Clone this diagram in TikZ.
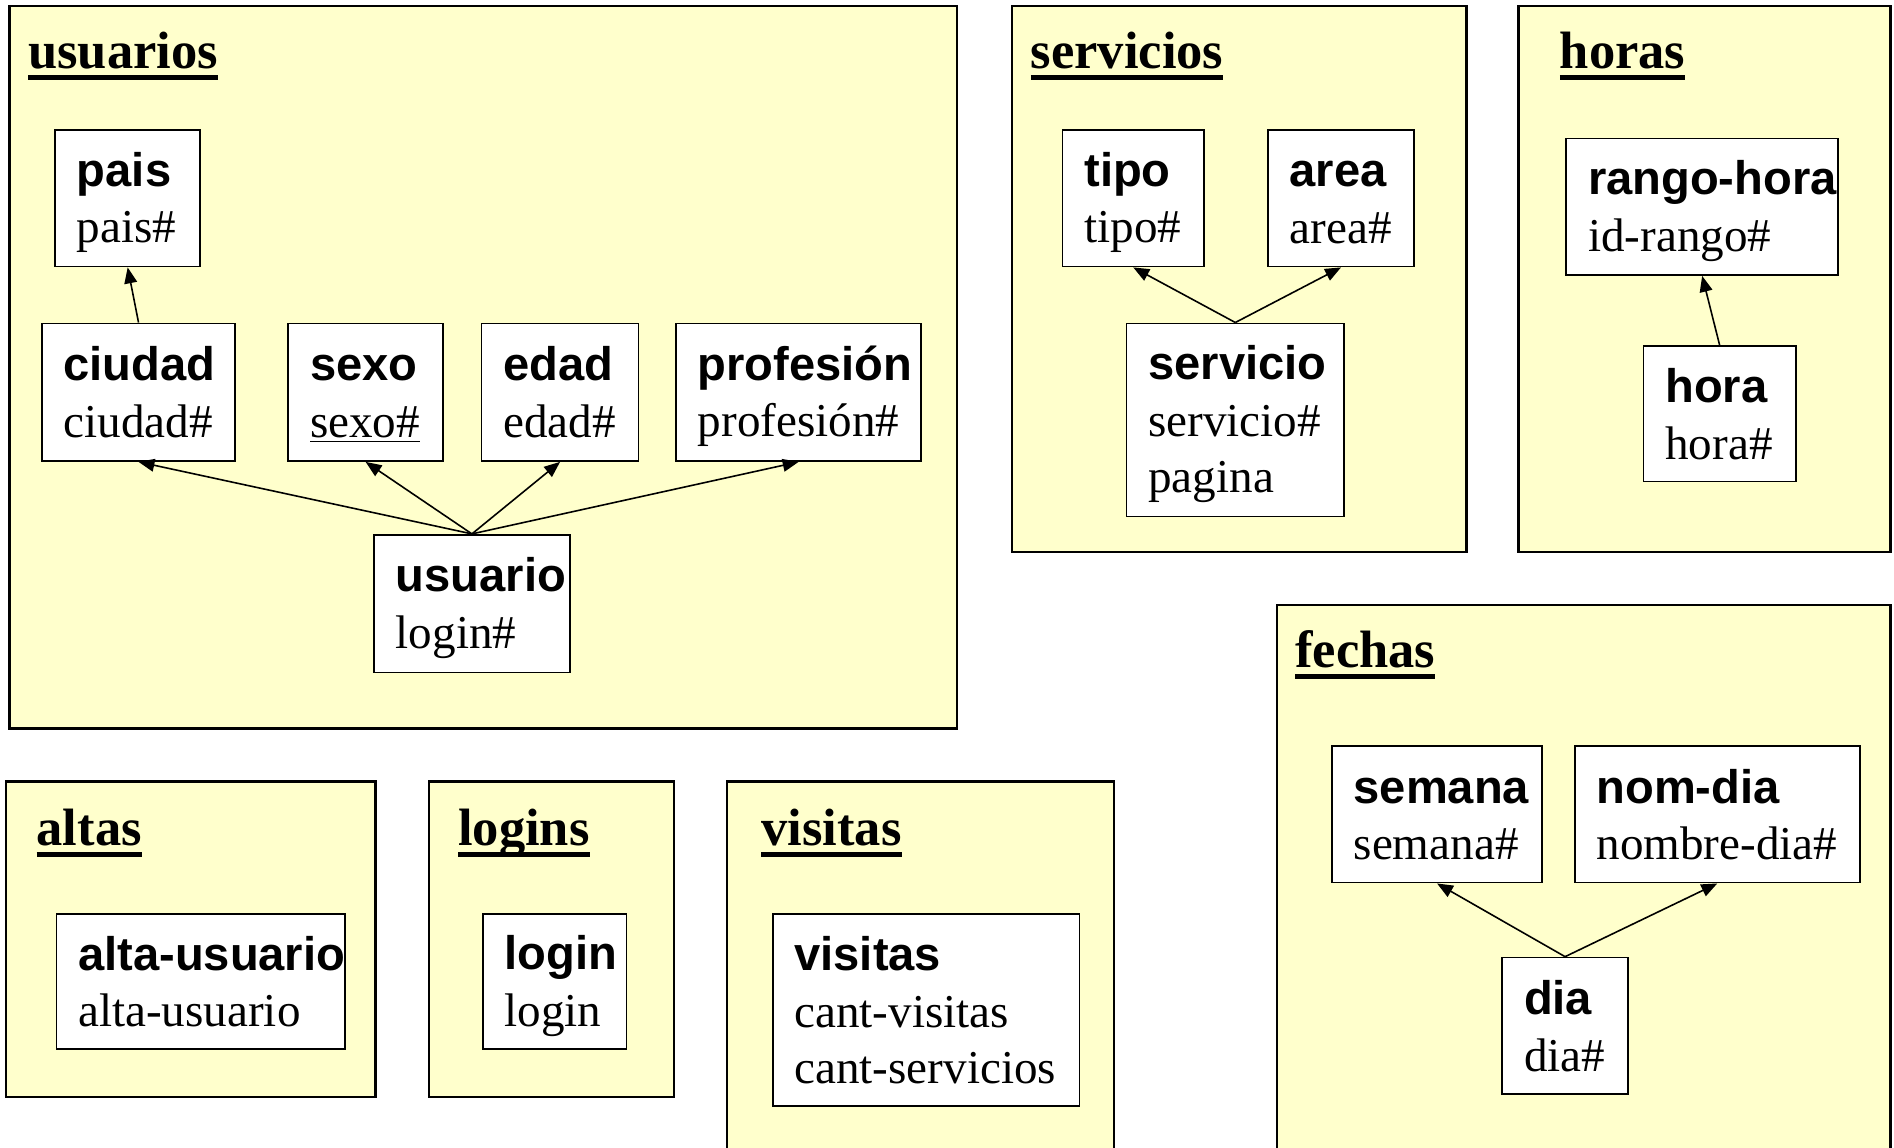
\documentclass[tikz,border=0pt]{standalone}
\usepackage{fontspec}
\setmainfont{Liberation Serif}
\setsansfont{Liberation Sans}
\usetikzlibrary{arrows.meta}
\definecolor{amarillo}{HTML}{FFFFCC}
\hyphenpenalty=10000
\exhyphenpenalty=10000
\newcommand{\cab}[1]{{\sffamily\bfseries #1}}
\newcommand{\puntal}{\rule[-4pt]{0pt}{24pt}}
\newcommand{\titulo}[1]{\setbox0\hbox{#1}\rlap{\rule[-5.2pt]{\wd0}{2.3pt}}\box0}
\tikzset{
    panel/.style={draw=black, fill=amarillo, line width=1.1pt},
    tit/.style={anchor=base west, inner sep=0pt, font=\fontsize{24.75}{28}\selectfont\bfseries},
    ent/.style={draw=black, fill=white, line width=0.8pt, anchor=north west,
        inner xsep=0.36cm, inner ysep=0pt, align=left,
        font=\fontsize{22.2}{26.7}\selectfont,
        execute at begin node=\puntal, execute at end node=\puntal},
    flecha/.style={-{Triangle[length=7.5pt,width=6pt]}, line width=0.75pt}
}

\begin{document}
\begin{tikzpicture}[x=0.02cm, y=-0.02cm]
    \useasboundingbox (0,0) rectangle (1568,950);

    % usuarios
    \draw[panel] (8,5) rectangle (792,603);
    \node[tit] (t-usuarios) at (23,57) {\titulo{usuarios}};
    \node[ent, text width=1.68cm, minimum height=2.26cm] (pais) at (45,107) {\cab{pais}\\pais\#};
    \node[ent, text width=2.48cm, minimum height=2.28cm] (ciudad) at (34,267) {\cab{ciudad}\\ciudad\#};
    \node[ent, text width=1.84cm, minimum height=2.28cm] (sexo) at (238,267) {\cab{sexo}\\\underline{sexo\#}};
    \node[ent, text width=1.88cm, minimum height=2.28cm] (edad) at (398,267) {\cab{edad}\\edad\#};
    \node[ent, text width=3.34cm, minimum height=2.28cm] (profesion) at (559,267) {\cab{profesión}\\profesión\#};
    \node[ent, text width=2.52cm, minimum height=2.28cm] (usuario) at (309,442) {\cab{usuario}\\login\#};
    \draw[flecha] (ciudad.north) -- (pais.south);
    \foreach \d in {ciudad,sexo,edad,profesion}{
        \draw[flecha] (usuario.north) -- (\d.south);
    }

    % servicios
    \draw[panel] (838,5) rectangle (1214,457);
    \node[tit] (t-servicios) at (853,57) {\titulo{servicios}};
    \node[ent, text width=1.62cm, minimum height=2.26cm] (tipo) at (879,107) {\cab{tipo}\\tipo\#};
    \node[ent, text width=1.70cm, minimum height=2.26cm] (area) at (1049,107) {\cab{area}\\area\#};
    \node[ent, text width=2.88cm, minimum height=3.20cm] (servicio) at (932,267) {\cab{servicio}\\servicio\#\\pagina};
    \foreach \d in {tipo,area}{
        \draw[flecha] (servicio.north) -- (\d.south);
    }

    % horas
    \draw[panel] (1257,5) rectangle (1565,457);
    \node[tit] (t-horas) at (1291,57) {\titulo{horas}};
    \node[ent, text width=3.78cm, minimum height=2.26cm] (rango) at (1296,114) {\cab{rango-hora}\\id-rango\#};
    \node[ent, text width=1.80cm, minimum height=2.24cm] (hora) at (1360,286) {\cab{hora}\\hora\#};
    \draw[flecha] (hora.north) -- (rango.south);

    % fechas
    \draw[panel] (1057,501) rectangle (1565,960);
    \node[tit] (t-fechas) at (1072,553) {\titulo{fechas}};
    \node[ent, text width=2.76cm, minimum height=2.26cm] (semana) at (1102,617) {\cab{semana}\\semana\#};
    \node[ent, text width=4.00cm, minimum height=2.26cm] (nomdia) at (1303,617) {\cab{nom-dia}\\nombre-dia\#};
    \node[ent, text width=1.36cm, minimum height=2.26cm] (dia) at (1243,792) {\cab{dia}\\dia\#};
    \foreach \d in {semana,nomdia}{
        \draw[flecha] (dia.north) -- (\d.south);
    }

    % altas, logins, visitas
    \draw[panel] (5,647) rectangle (311,908);
    \node[tit] (t-altas) at (30,700) {\titulo{altas}};
    \node[ent, text width=4.06cm, minimum height=2.24cm] (alta) at (46,756) {\cab{alta-usuario}\\alta-usuario};

    \draw[panel] (355,647) rectangle (558,908);
    \node[tit] (t-logins) at (379,700) {\titulo{logins}};
    \node[ent, text width=1.66cm, minimum height=2.24cm] (login) at (399,756) {\cab{login}\\login};

    \draw[panel] (602,647) rectangle (922,960);
    \node[tit] (t-visitas) at (630,700) {\titulo{visitas}};
    \node[ent, text width=4.36cm, minimum height=3.18cm] (visitas) at (639,756) {\cab{visitas}\\cant-visitas\\cant-servicios};
\end{tikzpicture}
\end{document}
